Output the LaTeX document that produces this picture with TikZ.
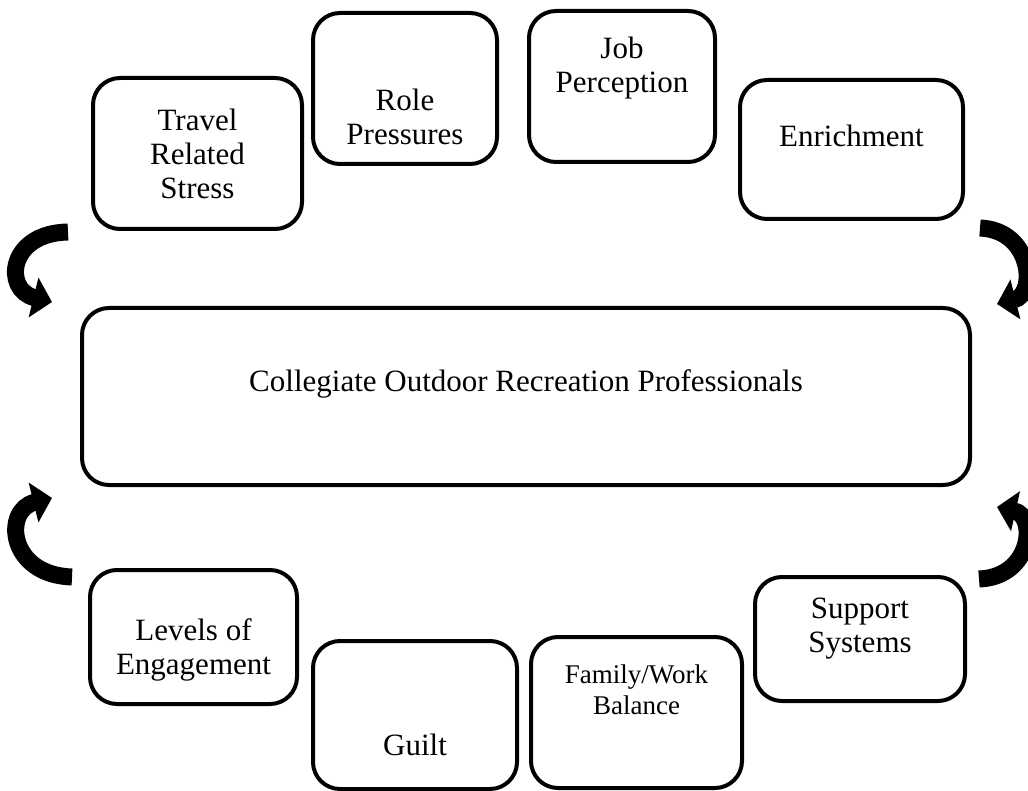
\documentclass[tikz,border=0pt]{standalone}
\usepackage{fontspec}
\setmainfont{Liberation Serif}
\usetikzlibrary{arrows.meta}
\tikzset{
  box/.style={draw=black, line width=4pt, rounded corners=27pt, fill=white},
  lbl/.style={align=center, font=\fontsize{31}{34}\selectfont, inner sep=0pt},
  smalllbl/.style={align=center, font=\fontsize{27}{31}\selectfont, inner sep=0pt},
  bigarrow/.style={line width=17pt, -{Triangle[length=19pt,width=40pt]}},
}
\begin{document}
\begin{tikzpicture}[x=1pt,y=-1pt]
\useasboundingbox (0,0) rectangle (1028,791);
% boxes
\node[box, minimum width=209pt, minimum height=151pt] (travel) at (197.5,153.5) {};
\node[box, minimum width=184pt, minimum height=151pt] (role) at (405,88.5) {};
\node[box, minimum width=186pt, minimum height=151pt] (job) at (622,86.5) {};
\node[box, minimum width=223pt, minimum height=139pt] (enrich) at (851.5,149.5) {};
\node[box, minimum width=888pt, minimum height=177pt] (central) at (526,396.5) {};
\node[box, minimum width=207pt, minimum height=134pt] (levels) at (193.5,637) {};
\node[box, minimum width=204pt, minimum height=148pt] (guilt) at (415,715) {};
\node[box, minimum width=211pt, minimum height=151pt] (family) at (636.5,712.5) {};
\node[box, minimum width=210pt, minimum height=124pt] (support) at (860,639) {};
% labels
\node[lbl] (travelT) at (197.5,154) {Travel\\Related\\Stress};
\node[lbl] (roleT) at (405,117) {Role\\Pressures};
\node[lbl] (jobT) at (622,68) {Job\\Perception};
\node[lbl] (enrichT) at (851.5,136) {Enrichment};
\node[lbl] (centralT) at (526,384) {Collegiate Outdoor Recreation Professionals};
\node[lbl] (levelsT) at (193.5,650) {Levels of\\Engagement};
\node[lbl] (guiltT) at (415,745) {Guilt};
\node[smalllbl] (familyT) at (636.5,690) {Family/Work\\Balance};
\node[lbl] (supportT) at (860,629) {Support\\Systems};
% curved arrows
\coordinate (tlA) at (68,232);
\coordinate (tlB) at (52,302);
\draw[bigarrow] (tlA) .. controls (8,233) and (3,290) .. (tlB);
\coordinate (trA) at (980,228);
\coordinate (trB) at (997,304);
\draw[bigarrow] (trA) .. controls (1032,230) and (1037,294) .. (trB);
\coordinate (blA) at (72,577);
\coordinate (blB) at (52,498);
\draw[bigarrow] (blA) .. controls (8,575) and (3,510) .. (blB);
\coordinate (brA) at (979,579);
\coordinate (brB) at (997,507);
\draw[bigarrow] (brA) .. controls (1032,577) and (1037,516) .. (brB);
\end{tikzpicture}
\end{document}
